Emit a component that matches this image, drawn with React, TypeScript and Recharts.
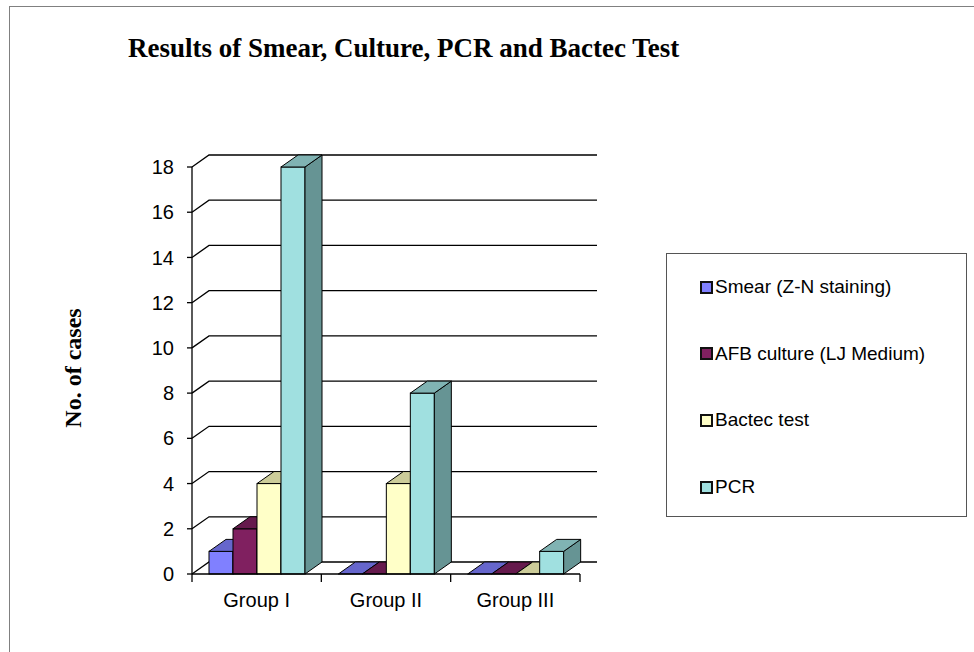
import { BarChart, Bar, XAxis, YAxis, CartesianGrid } from "recharts";

const groups = ["Group I", "Group II", "Group III"];
const smear = [1, 0, 0];
const afbCulture = [2, 0, 0];
const bactec = [4, 4, 0];
const pcr = [18, 8, 1];
const yTicks = [0, 2, 4, 6, 8, 10, 12, 14, 16, 18];

const seriesNames = ["Smear (Z-N staining)", "AFB culture (LJ Medium)", "Bactec test", "PCR"];

const data = groups.map((g, i) => ({
  group: g,
  smear: smear[i],
  afb: afbCulture[i],
  bactec: bactec[i],
  pcr: pcr[i],
}));

// depth of the fake 3d
const DX = 17;
const DY = 12;
const PLOT_LEFT = 192;
const PLOT_RIGHT = 580;
const HALF_BAND = (PLOT_RIGHT - PLOT_LEFT) / groups.length / 2;

const palette = [
  { key: "smear", front: "#8080FF", top: "#6666CC", side: "#5959B3" },
  { key: "afb", front: "#802060", top: "#661A4D", side: "#4D1339" },
  { key: "bactec", front: "#FFFFC8", top: "#CCCC99", side: "#B3B38C" },
  { key: "pcr", front: "#A0E0E0", top: "#80B3B3", side: "#669494" },
];

const makeBox = (c: { front: string; top: string; side: string }) => (p: any) => {
  const x = p.x;
  const y = p.y;
  const w = p.width;
  const h = Math.max(p.height || 0, 0);
  const topPts = `${x},${y} ${x + DX},${y - DY} ${x + w + DX},${y - DY} ${x + w},${y}`;
  const sidePts = `${x + w},${y} ${x + w + DX},${y - DY} ${x + w + DX},${y + h - DY} ${x + w},${y + h}`;
  return (
    <g>
      {h > 0 && <rect x={x} y={y} width={w} height={h} fill={c.front} stroke="#000" strokeWidth={1} />}
      {h > 0 && <polygon points={sidePts} fill={c.side} stroke="#000" strokeWidth={1} strokeLinejoin="round" />}
      <polygon points={topPts} fill={c.top} stroke="#000" strokeWidth={1} strokeLinejoin="round" />
    </g>
  );
};

const gridLine = (p: any) => {
  const y = p.y1;
  return (
    <path
      key={p.key}
      d={`M${p.x1},${y} L${p.x1 + DX},${y - DY} L${p.x2 + DX},${y - DY}`}
      fill="none"
      stroke="#000"
      strokeWidth={1.3}
    />
  );
};

const GroupTick = (p: any) => {
  const { x, y, payload, index } = p;
  return (
    <g>
      <line x1={x - HALF_BAND} y1={y} x2={x - HALF_BAND} y2={y + 8} stroke="#000" strokeWidth={1.3} />
      {index === groups.length - 1 && (
        <line x1={x + HALF_BAND} y1={y} x2={x + HALF_BAND} y2={y + 8} stroke="#000" strokeWidth={1.3} />
      )}
      <text x={x} y={y + 33} textAnchor="middle" fill="#000" fontSize={20} fontFamily="Liberation Sans, Arial, sans-serif">
        {payload.value}
      </text>
    </g>
  );
};

const LegendBox = () => (
  <div
    style={{
      position: "absolute",
      left: 666,
      top: 253,
      width: 301,
      height: 264,
      border: "1px solid #555",
      boxSizing: "border-box",
      fontFamily: "Liberation Sans, Arial, sans-serif",
      fontSize: 19,
      color: "#000",
    }}
  >
    {seriesNames.map((name, i) => (
      <div
        key={name}
        style={{ position: "absolute", left: 33, top: 22 + i * 66.7, display: "flex", alignItems: "center", whiteSpace: "nowrap" }}
      >
        <span
          style={{
            display: "inline-block",
            width: 9,
            height: 9,
            background: palette[i].front,
            border: "2px solid #111",
            marginRight: 2,
          }}
        />
        {name}
      </div>
    ))}
  </div>
);

export default function App() {
  return (
    <div style={{ position: "absolute", left: 0, top: 0, width: 974, height: 652, background: "#fff", overflow: "hidden" }}>
      <div
        style={{
          position: "absolute",
          left: 9,
          top: 6,
          width: 980,
          height: 660,
          borderLeft: "1.5px solid #808080",
          borderTop: "1.5px solid #808080",
        }}
      />
      <div
        style={{
          position: "absolute",
          left: 128,
          top: 33,
          fontFamily: "Liberation Serif, Times New Roman, serif",
          fontWeight: "bold",
          fontSize: 27,
          whiteSpace: "nowrap",
          color: "#000",
        }}
      >
        Results of Smear, Culture, PCR and Bactec Test
      </div>
      <div
        style={{
          position: "absolute",
          left: 73,
          top: 368,
          transform: "translate(-50%, -50%) rotate(-90deg)",
          fontFamily: "Liberation Serif, Times New Roman, serif",
          fontWeight: "bold",
          fontSize: 24,
          whiteSpace: "nowrap",
          color: "#000",
        }}
      >
        No. of cases
      </div>
      <div style={{ position: "absolute", left: 0, top: 0 }}>
        <BarChart
          width={974}
          height={652}
          data={data}
          margin={{ top: 167, right: 974 - PLOT_RIGHT, bottom: 48, left: 0 }}
          barCategoryGap={17}
          barGap={0}
        >
          <CartesianGrid vertical={false} horizontal={gridLine} />
          <XAxis
            dataKey="group"
            height={30}
            axisLine={{ stroke: "#000", strokeWidth: 1.3 }}
            tickLine={false}
            tickSize={0}
            tickMargin={0}
            tick={<GroupTick />}
            interval={0}
          />
          <YAxis
            width={PLOT_LEFT}
            domain={[0, 18]}
            ticks={yTicks}
            interval={0}
            axisLine={{ stroke: "#000", strokeWidth: 1.3 }}
            tickLine={{ stroke: "#000", strokeWidth: 1.3 }}
            tickSize={5}
            tickMargin={13}
            tick={{ fill: "#000", fontSize: 20, fontFamily: "Liberation Sans, Arial, sans-serif" }}
          />
          {palette.map((c, i) => (
            <Bar
              key={c.key}
              dataKey={c.key}
              name={seriesNames[i]}
              fill={c.front}
              isAnimationActive={false}
              shape={makeBox(c)}
            />
          ))}
        </BarChart>
      </div>
      <LegendBox />
    </div>
  );
}
